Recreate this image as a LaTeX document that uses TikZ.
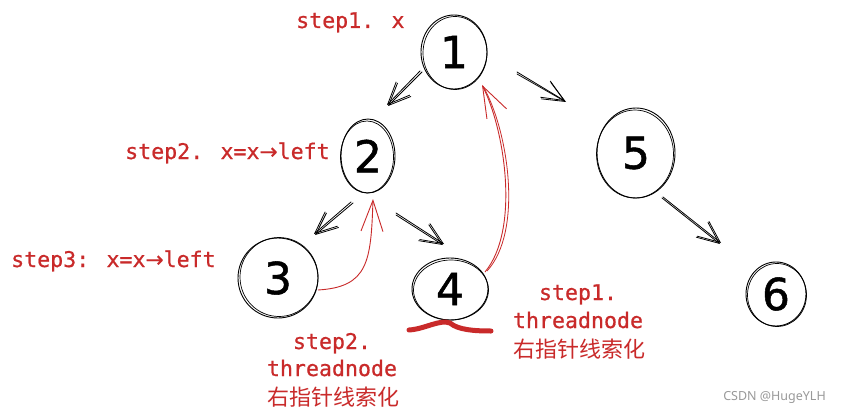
\documentclass[tikz,border=0pt]{standalone}
\usepackage{fontspec}
\usetikzlibrary{shapes.geometric,arrows.meta,calc}
\newfontfamily\monof[FakeBold=0.7]{DejaVu Sans Mono}
\newfontfamily\symf[FakeBold=0.7]{DejaVu Sans}
\newfontfamily\cjk{Noto Sans CJK SC}
\newfontfamily\digf[FakeBold=1.2]{DejaVu Sans}
\newfontfamily\wmf{Noto Sans}
\definecolor{sred}{HTML}{C92A2A}
\newcommand\sarrow{{\symf →}}
\tikzset{
  tnode/.style={ellipse, draw, line width=0.9pt, inner sep=0pt, font=\digf\fontsize{44}{44}\selectfont},
  sketch/.style={line width=0.7pt},
  blk/.style={-{Straight Barb[length=22pt,width=19pt]}, line width=0.8pt, line cap=round},
  rarrow/.style={draw=sred, line width=0.9pt, -{Straight Barb[length=31pt,width=22pt]}},
  lbl/.style={text=sred, font=\monof\fontsize{21.6}{27}\selectfont},
  cjkl/.style={text=sred, font=\cjk\fontsize{22}{27}\selectfont},
}
\begin{document}
\begin{tikzpicture}[x=1pt,y=-1pt]
\useasboundingbox[fill=white] (0,0) rectangle (841,412);
% tree nodes
\node[tnode, minimum width=66pt, minimum height=74pt] (n1) at (454,52) {1};
\node[tnode, minimum width=54pt, minimum height=74pt] (n2) at (368,156) {2};
\node[tnode, minimum width=80pt, minimum height=80pt] (n3) at (278,278) {3};
\node[tnode, minimum width=76pt, minimum height=62pt] (n4) at (450,289) {4};
\node[tnode, minimum width=78pt, minimum height=90pt] (n5) at (636,153) {5};
\node[tnode, minimum width=60pt, minimum height=64pt] (n6) at (776,294) {6};
% sketchy second strokes
\draw[sketch] ($(n1)+(1,1)$) ellipse [x radius=32pt, y radius=36.5pt];
\draw[sketch] ($(n2)+(-1,1)$) ellipse [x radius=26.5pt, y radius=36pt];
\draw[sketch] ($(n3)+(1,-1)$) ellipse [x radius=39pt, y radius=39.5pt];
\draw[sketch] ($(n4)+(1,1)$) ellipse [x radius=37.5pt, y radius=30pt];
\draw[sketch] ($(n5)+(-1,1)$) ellipse [x radius=38.5pt, y radius=44pt];
\draw[sketch] ($(n6)+(1,1)$) ellipse [x radius=29.5pt, y radius=31.5pt];
% black child arrows
\draw[blk] ($(n1)+(-34,19)$) -- ($(n2)+(19,-51)$);
\draw[blk] ($(n1)+(-32,20)$) -- ($(n2)+(20,-50)$);
\draw[blk] ($(n1)+(63,22)$) -- ($(n5)+(-70,-51)$);
\draw[blk] ($(n1)+(63,20)$) -- ($(n5)+(-71,-52)$);
\draw[blk] ($(n2)+(-17,46)$) -- ($(n3)+(36,-44)$);
\draw[blk] ($(n2)+(-15,47)$) -- ($(n3)+(37,-43)$);
\draw[blk] ($(n2)+(28,57)$) -- ($(n4)+(-6,-45)$);
\draw[blk] ($(n2)+(28,59)$) -- ($(n4)+(-7,-44)$);
\draw[blk] ($(n5)+(26,45)$) -- ($(n6)+(-56,-50)$);
\draw[blk] ($(n5)+(27,44)$) -- ($(n6)+(-55,-51)$);
% red thread arrows
\draw[rarrow] ($(n3)+(40,12)$) .. controls (368,287) and (371,262) .. ($(n2)+(5,43)$);
\draw[rarrow] ($(n4)+(35,-17)$) .. controls (520,230) and (505,130) .. ($(n1)+(28,33)$);
\draw[draw=sred, line width=0.8pt] ($(n4)+(37,-18)$) .. controls (523,232) and (509,132) .. ($(n1)+(29,34)$);
% red squiggle under node 4
\draw[sred, line width=5pt, line cap=round, line join=round]
  ($(n4)+(-41,41)$) .. controls ($(n4)+(-25,40)$) and ($(n4)+(-10,30)$) .. ($(n4)+(0,34)$)
  .. controls ($(n4)+(8,41)$) and ($(n4)+(25,42)$) .. ($(n4)+(41,42)$);
% labels
\node[lbl, anchor=base west, inner sep=0pt] (l1) at (296,28) {step1. x};
\node[lbl, anchor=base west, inner sep=0pt] (l2) at (125,159) {step2. x=x\sarrow left};
\node[lbl, anchor=base west, inner sep=0pt] (l3) at (11,267) {step3: x=x\sarrow left};
\node[lbl, anchor=base, inner sep=0pt] (a1) at (332,349) {step2.};
\node[lbl, anchor=base, inner sep=0pt] (a2) at (332,376) {threadnode};
\node[cjkl, anchor=base, inner sep=0pt] (a3) at (333,405) {右指针线索化};
\node[lbl, anchor=base, inner sep=0pt] (b1) at (578,300) {step1.};
\node[lbl, anchor=base, inner sep=0pt] (b2) at (578,328) {threadnode};
\node[cjkl, anchor=base, inner sep=0pt] (b3) at (579,357) {右指针线索化};
\node[anchor=base east, inner sep=0pt, text=black!40, font=\wmf\fontsize{12.5}{14}\selectfont] (wm) at (826,400) {CSDN @HugeYLH};
\end{tikzpicture}
\end{document}
